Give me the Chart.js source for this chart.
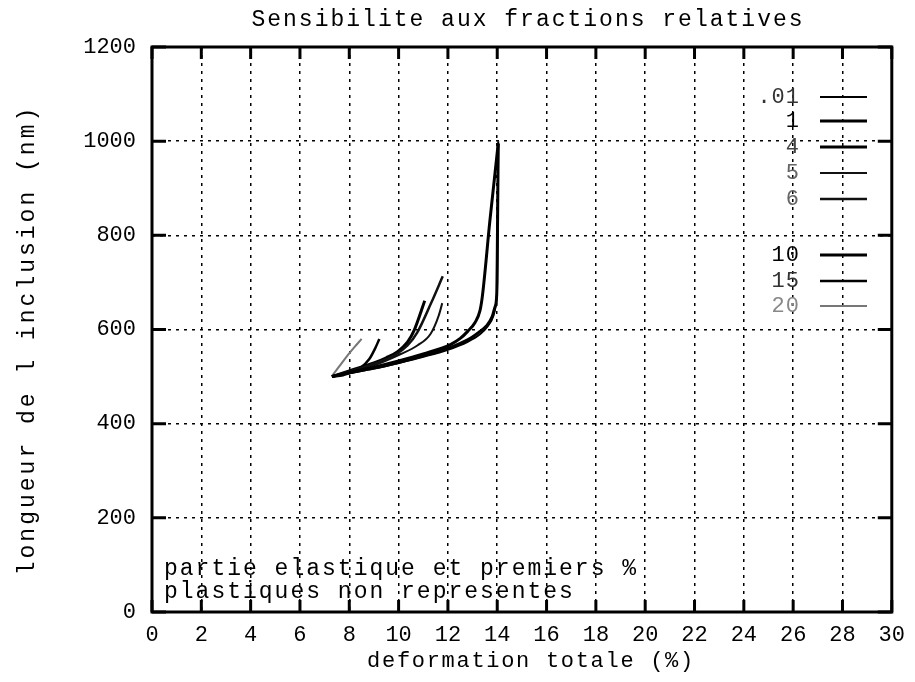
<!DOCTYPE html>
<html>
<head>
<meta charset="utf-8">
<script src="https://cdn.jsdelivr.net/npm/chart.js@4.4.1/dist/chart.umd.min.js"></script>
<style>
  html, body { margin: 0; padding: 0; background: #fff; }
  #wrap { width: 915px; height: 682px; }
</style>
</head>
<body>
<div id="wrap"><canvas id="c" width="915" height="682"></canvas></div>
<script>
// textes
const titre = 'Sensibilite aux fractions relatives';
const titreX = 'deformation totale (%)';
const titreY = 'longueur de l inclusion (nm)';
const note = ['partie elastique et premiers %', 'plastiques non representes'];

// fractions relatives (legende)
const fractions = ['.01', '1', '4', '5', '6', '10', '15', '20'];

// deformation totale (%) / longueur (nm) pour chaque fraction
const def01 = [7.3, 8, 9, 10, 11, 12, 12.8, 13.3, 13.6, 13.85, 13.95, 14.0, 14.02, 14.04];
const lon01 = [500, 507, 517, 529, 542, 557, 574, 590, 606, 630, 655, 700, 850, 1000];
const def1 = [7.3, 8, 9, 10, 11, 12, 12.8, 13.25, 13.57, 13.8, 13.91, 13.98, 14.0, 14.04];
const lon1 = [500, 508, 518, 530, 544, 560, 578, 594, 608, 628, 648, 675, 750, 995];
const def4 = [7.3, 8, 9, 10, 11, 12.1, 12.5, 12.8, 13.1, 13.3, 13.4, 13.7, 14.04];
const lon4 = [500, 509, 520, 533, 548, 568, 581, 596, 615, 640, 672, 830, 995];
const def5 = [7.3, 8, 9, 10.09, 10.76, 11.3, 11.63, 11.77];
const lon5 = [500, 510, 524, 548, 566, 591, 630, 656];
const def6 = [7.3, 8, 9, 9.83, 10.36, 10.76, 11.3, 11.79];
const lon6 = [500, 511, 527, 545, 566, 594, 654, 713];
const def10 = [7.3, 8, 9, 9.5, 9.96, 10.36, 10.63, 11.06];
const lon10 = [500, 512, 529, 540, 553, 573, 598, 661];
const def15 = [7.3, 7.75, 8.42, 8.82, 9.05, 9.22];
const lon15 = [500, 503, 517, 538, 560, 580];
const def20 = [7.28, 7.6, 7.9, 8.2, 8.5];
const lon20 = [500, 522, 543, 562, 580];

const xTicks = [0, 2, 4, 6, 8, 10, 12, 14, 16, 18, 20, 22, 24, 26, 28, 30];
const yTicks = [0, 200, 400, 600, 800, 1000, 1200];

const toPts = (xs, ys) => xs.map((x, i) => ({ x: x, y: ys[i] }));
const series = [
  [def01, lon01], [def1, lon1], [def4, lon4], [def5, lon5],
  [def6, lon6], [def10, lon10], [def15, lon15], [def20, lon20]
];
const widths = [2, 3, 3, 2, 2.5, 3, 2.5, 2];
const colors = ['#000', '#000', '#000', '#111', '#111', '#000', '#000', '#777'];
const legendRows = [97, 121, 147, 173, 199, 255, 281, 306];
const legendTextColors = ['#333', '#000', '#444', '#666', '#666', '#000', '#333', '#888'];

const mono = '"Liberation Mono", "DejaVu Sans Mono", monospace';

const decor = {
  id: 'decor',
  afterDraw(chart) {
    const ctx = chart.ctx;
    const a = chart.chartArea;
    const xs = chart.scales.x, ys = chart.scales.y;
    ctx.save();
    // cadre
    ctx.strokeStyle = '#000';
    ctx.lineWidth = 3;
    ctx.strokeRect(a.left, a.top, a.right - a.left, a.bottom - a.top);
    // graduations vers l'interieur
    ctx.lineWidth = 3;
    ctx.beginPath();
    xTicks.forEach(v => {
      const px = xs.getPixelForValue(v);
      ctx.moveTo(px, a.bottom); ctx.lineTo(px, a.bottom - 12);
      ctx.moveTo(px, a.top); ctx.lineTo(px, a.top + 12);
    });
    yTicks.forEach(v => {
      const py = ys.getPixelForValue(v);
      ctx.moveTo(a.left, py); ctx.lineTo(a.left + 14, py);
      ctx.moveTo(a.right, py); ctx.lineTo(a.right - 14, py);
    });
    ctx.stroke();

    ctx.fillStyle = '#000';
    ctx.textBaseline = 'middle';
    // titre
    ctx.font = '23px ' + mono;
    ctx.letterSpacing = '2px';
    ctx.textAlign = 'center';
    ctx.fillText(titre, 528, 20);
    // titre axe x
    ctx.font = '22px ' + mono;
    ctx.letterSpacing = '1.7px';
    ctx.fillText(titreX, 531, 661);
    // titre axe y
    ctx.save();
    ctx.translate(28, 340);
    ctx.rotate(-Math.PI / 2);
    ctx.font = '23px ' + mono;
    ctx.letterSpacing = '3px';
    ctx.fillText(titreY, 0, 0);
    ctx.restore();
    // note
    ctx.font = '23px ' + mono;
    ctx.letterSpacing = '2px';
    ctx.textAlign = 'left';
    ctx.fillText(note[0], 164, 569);
    ctx.fillText(note[1], 164, 592);
    // legende
    ctx.font = '22px ' + mono;
    ctx.letterSpacing = '1px';
    ctx.textAlign = 'right';
    fractions.forEach((f, i) => {
      const y = legendRows[i];
      ctx.fillStyle = legendTextColors[i];
      ctx.fillText(f, 800, y);
      ctx.strokeStyle = colors[i];
      ctx.lineWidth = widths[i];
      ctx.beginPath();
      ctx.moveTo(820, y); ctx.lineTo(867, y);
      ctx.stroke();
    });
    ctx.restore();
  }
};

new Chart(document.getElementById('c'), {
  type: 'line',
  data: {
    datasets: series.map((s, i) => ({
      label: fractions[i],
      data: toPts(s[0], s[1]),
      borderColor: colors[i],
      borderWidth: widths[i],
      pointRadius: 0,
      fill: false,
      cubicInterpolationMode: 'monotone'
    }))
  },
  options: {
    responsive: false,
    animation: false,
    layout: { padding: { left: 0, top: 47, right: 16, bottom: 0 } },
    plugins: { legend: { display: false }, title: { display: false }, tooltip: { enabled: false } },
    scales: {
      x: {
        type: 'linear', min: 0, max: 30,
        afterFit: s => { s.height = 70; },
        afterBuildTicks: s => { s.ticks = xTicks.map(v => ({ value: v })); },
        ticks: { color: '#000', font: { family: mono, size: 22 }, padding: 10, maxRotation: 0, autoSkip: false,
                 callback: v => String(v) },
        grid: { color: '#000', lineWidth: 1.5, drawTicks: false },
        border: { display: false, dash: [3, 5] }
      },
      y: {
        type: 'linear', min: 0, max: 1200,
        afterFit: s => { s.width = 152; },
        afterBuildTicks: s => { s.ticks = yTicks.map(v => ({ value: v })); },
        ticks: { color: '#000', font: { family: mono, size: 22 }, padding: 16,
                 callback: v => String(v) },
        grid: { color: '#000', lineWidth: 1.5, drawTicks: false },
        border: { display: false, dash: [3, 5] }
      }
    }
  },
  plugins: [decor]
});
</script>
</body>
</html>
